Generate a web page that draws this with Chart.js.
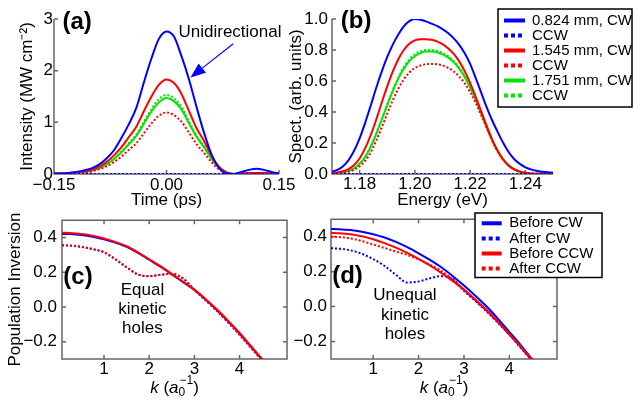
<!DOCTYPE html>
<html>
<head>
<meta charset="utf-8">
<script src="https://cdn.jsdelivr.net/npm/chart.js@4.4.1/dist/chart.umd.min.js"></script>
<style>
html, body { margin: 0; padding: 0; background: #fff; }
#wrap { position: relative; width: 633px; height: 401px; overflow: hidden; }
canvas { position: absolute; }
</style>
</head>
<body>
<div id="wrap">
  <canvas id="ca" width="300" height="212" style="left:0;top:0"></canvas>
  <canvas id="cb" width="353" height="212" style="left:280px;top:0"></canvas>
  <canvas id="cc" width="300" height="196" style="left:0;top:205px"></canvas>
  <canvas id="cd" width="353" height="196" style="left:280px;top:205px"></canvas>
</div>
<script>
// panel (a): intensity vs time
const timePs = [-0.15, -0.14, -0.13, -0.12, -0.11, -0.10, -0.09, -0.08, -0.07, -0.06, -0.05, -0.04, -0.03, -0.02, -0.01, 0.00,
  0.01, 0.02, 0.03, 0.04, 0.05, 0.06, 0.07, 0.08, 0.09, 0.10, 0.11, 0.12, 0.13, 0.14, 0.15];
const intBlueCW  = [0.01, 0.01, 0.02, 0.04, 0.07, 0.11, 0.18, 0.30, 0.46, 0.70, 0.97, 1.29, 1.78, 2.24, 2.62, 2.76,
  2.66, 2.28, 1.83, 1.30, 0.80, 0.38, 0.12, 0.01, 0.00, 0.04, 0.08, 0.10, 0.08, 0.04, 0.01];
const intBlueCCW = [0, 0, 0, 0, 0, 0, 0, 0, 0, 0, 0, 0, 0, 0, 0, 0, 0, 0, 0, 0, 0, 0, 0, 0, 0, 0, 0, 0, 0, 0, 0];
const intRedCW   = [0.01, 0.01, 0.02, 0.03, 0.05, 0.08, 0.14, 0.23, 0.36, 0.52, 0.72, 0.92, 1.22, 1.50, 1.73, 1.83,
  1.76, 1.55, 1.22, 0.89, 0.64, 0.35, 0.14, 0.03, 0.00, 0.01, 0.02, 0.02, 0.02, 0.01, 0.00];
const intRedCCW  = [0.00, 0.01, 0.01, 0.02, 0.03, 0.05, 0.09, 0.15, 0.23, 0.34, 0.47, 0.60, 0.79, 0.98, 1.13, 1.19,
  1.14, 1.01, 0.80, 0.58, 0.41, 0.23, 0.09, 0.02, 0.00, 0.00, 0.00, 0.00, 0.00, 0.00, 0.00];
const intGreenCW = [0.00, 0.01, 0.01, 0.02, 0.04, 0.06, 0.11, 0.18, 0.29, 0.42, 0.58, 0.74, 0.98, 1.21, 1.39, 1.47,
  1.41, 1.25, 0.98, 0.72, 0.52, 0.29, 0.12, 0.03, 0.00, 0.01, 0.01, 0.02, 0.01, 0.01, 0.00];
const intGreenCCW = [0.00, 0.01, 0.01, 0.02, 0.04, 0.07, 0.11, 0.19, 0.30, 0.44, 0.60, 0.77, 1.02, 1.26, 1.45, 1.53,
  1.47, 1.30, 1.02, 0.75, 0.54, 0.30, 0.12, 0.03, 0.00, 0.00, 0.01, 0.01, 0.01, 0.00, 0.00];

// panel (b): spectra vs energy
const energyEv = [1.170, 1.172, 1.174, 1.176, 1.178, 1.180, 1.182, 1.184, 1.186, 1.188, 1.190, 1.192, 1.194, 1.196, 1.198, 1.200,
  1.202, 1.204, 1.206, 1.208, 1.210, 1.212, 1.214, 1.216, 1.218, 1.220, 1.222, 1.224, 1.226, 1.228, 1.230,
  1.232, 1.234, 1.236, 1.238, 1.240, 1.242, 1.244, 1.246, 1.248, 1.250];
const spBlueCW = [0.015, 0.027, 0.05, 0.09, 0.15, 0.23, 0.33, 0.44, 0.555, 0.66, 0.755, 0.835, 0.90, 0.953, 0.986, 1.0,
  0.995, 0.985, 0.97, 0.955, 0.935, 0.91, 0.877, 0.835, 0.78, 0.71, 0.62, 0.525, 0.43, 0.345, 0.27,
  0.20, 0.14, 0.095, 0.065, 0.043, 0.03, 0.021, 0.015, 0.011, 0.008];
const spBlueCCW = [0, 0, 0, 0, 0, 0, 0, 0, 0, 0, 0, 0, 0, 0, 0, 0, 0, 0, 0, 0, 0, 0, 0, 0, 0, 0, 0, 0, 0, 0, 0,
  0, 0, 0, 0, 0, 0, 0, 0, 0, 0];
const spRedCW = [0.005, 0.01, 0.018, 0.032, 0.058, 0.10, 0.165, 0.25, 0.35, 0.46, 0.565, 0.66, 0.74, 0.80, 0.84, 0.862,
  0.87, 0.87, 0.866, 0.856, 0.838, 0.812, 0.776, 0.728, 0.665, 0.588, 0.50, 0.405, 0.31, 0.222, 0.148,
  0.092, 0.054, 0.03, 0.016, 0.008, 0.004, 0.002, 0.001, 0.0, 0.0];
const spRedCCW = [0.002, 0.004, 0.008, 0.015, 0.028, 0.05, 0.085, 0.14, 0.215, 0.30, 0.39, 0.475, 0.55, 0.61, 0.655, 0.683,
  0.70, 0.708, 0.71, 0.708, 0.70, 0.685, 0.663, 0.63, 0.587, 0.53, 0.46, 0.38, 0.296, 0.215, 0.145,
  0.09, 0.052, 0.028, 0.014, 0.007, 0.003, 0.002, 0.001, 0.0, 0.0];
const spGreenCW = [0.003, 0.006, 0.011, 0.02, 0.037, 0.066, 0.11, 0.175, 0.258, 0.35, 0.445, 0.535, 0.615, 0.68, 0.728, 0.76,
  0.78, 0.79, 0.79, 0.785, 0.772, 0.752, 0.722, 0.682, 0.628, 0.56, 0.48, 0.392, 0.302, 0.218, 0.148,
  0.094, 0.056, 0.031, 0.016, 0.008, 0.004, 0.002, 0.001, 0.0, 0.0];
const spGreenCCW = [0.003, 0.006, 0.011, 0.02, 0.037, 0.066, 0.11, 0.175, 0.258, 0.352, 0.448, 0.54, 0.622, 0.69, 0.74, 0.773,
  0.792, 0.80, 0.80, 0.795, 0.782, 0.76, 0.73, 0.688, 0.632, 0.563, 0.482, 0.393, 0.302, 0.218, 0.148,
  0.094, 0.056, 0.031, 0.016, 0.008, 0.004, 0.002, 0.001, 0.0, 0.0];

// panels (c) and (d): population inversion vs k
const kGrid = [0.07, 0.25, 0.5, 0.75, 1.0, 1.25, 1.5, 1.75, 2.0, 2.25, 2.5, 2.75, 3.0, 3.25, 3.5, 3.75, 4.0, 4.25, 4.5, 4.75];
const cBeforeCW  = [0.421, 0.420, 0.415, 0.405, 0.390, 0.371, 0.346, 0.312, 0.272, 0.232, 0.188, 0.143, 0.098, 0.043, -0.018, -0.083, -0.153, -0.228, -0.303, -0.373];
const cAfterCW   = [0.355, 0.353, 0.346, 0.333, 0.315, 0.275, 0.228, 0.187, 0.177, 0.185, 0.190, 0.164, 0.098, 0.038, -0.024, -0.090, -0.160, -0.234, -0.309, -0.382];
const cBeforeCCW = [0.428, 0.426, 0.420, 0.410, 0.395, 0.375, 0.350, 0.315, 0.275, 0.235, 0.190, 0.145, 0.100, 0.045, -0.015, -0.080, -0.150, -0.225, -0.300, -0.370];
const cAfterCCW  = [0.356, 0.354, 0.347, 0.334, 0.316, 0.276, 0.229, 0.188, 0.178, 0.186, 0.191, 0.165, 0.100, 0.040, -0.022, -0.088, -0.158, -0.232, -0.307, -0.380];
const dBeforeCW  = [0.444, 0.443, 0.438, 0.428, 0.414, 0.395, 0.370, 0.340, 0.305, 0.267, 0.225, 0.175, 0.120, 0.062, 0.000, -0.070, -0.145, -0.220, -0.300, -0.375];
const dAfterCW   = [0.334, 0.331, 0.322, 0.302, 0.272, 0.232, 0.182, 0.138, 0.143, 0.162, 0.174, 0.158, 0.090, 0.032, -0.028, -0.093, -0.162, -0.236, -0.310, -0.385];
const dBeforeCCW = [0.422, 0.420, 0.414, 0.402, 0.385, 0.363, 0.337, 0.307, 0.273, 0.235, 0.193, 0.147, 0.097, 0.040, -0.020, -0.085, -0.155, -0.228, -0.303, -0.380];
const dAfterCCW  = [0.400, 0.398, 0.390, 0.375, 0.355, 0.335, 0.315, 0.295, 0.270, 0.240, 0.205, 0.155, 0.097, 0.037, -0.024, -0.090, -0.160, -0.233, -0.308, -0.383];

// tick labels
const timeTicks = [-0.15, 0, 0.15];
const intTicks = [0, 1, 2, 3];
const energyTicks = [1.18, 1.20, 1.22, 1.24];
const spTicks = [0, 0.2, 0.4, 0.6, 0.8, 1.0];
const kTicks = [1, 2, 3, 4];
const invTicks = [-0.2, 0, 0.2, 0.4];

const FAM = '"Liberation Sans", Arial, sans-serif';
const BLUE = '#0000ff', RED = '#ff0000', GREEN = '#00e600';
const AXIS = '#666';

function pts(xs, ys) { return xs.map((x, i) => ({x: x, y: ys[i]})); }

function fmt(v, d) {
  const s = Math.abs(v).toFixed(d);
  return (v < -1e-9 ? '\u2212' : '') + s;
}

function line(label, xs, ys, color, dotted, order) {
  return {
    label: label, data: pts(xs, ys), borderColor: color, backgroundColor: color,
    borderWidth: 2, borderDash: dotted ? [2, 2] : [], pointRadius: 0,
    cubicInterpolationMode: 'monotone',
    fill: false, dotted: dotted, order: order || 0
  };
}

function axis(min, max, ticks, dec, size, pad, title) {
  return {
    type: 'linear', min: min, max: max,
    grid: {display: false, drawTicks: false},
    border: {display: false},
    afterBuildTicks: s => { s.ticks = ticks.map(v => ({value: v})); },
    afterFit: s => { if (s.isHorizontal()) s.height = size; else s.width = size; },
    ticks: {padding: pad, color: '#000', font: {family: FAM, size: 17}, autoSkip: false, maxRotation: 0,
      callback: v => fmt(v, dec)},
    title: title ? Object.assign({display: true, color: '#000', font: {family: FAM, size: 17}}, title) : {display: false}
  };
}

// frame, inward ticks, annotations and legends
const decor = {
  id: 'decor',
  beforeDatasetsDraw(chart, args, o) {
    const ctx = chart.ctx, a = chart.chartArea, sx = chart.scales.x, sy = chart.scales.y;
    ctx.save();
    ctx.strokeStyle = AXIS;
    ctx.lineWidth = 1.5;
    ctx.beginPath();
    if (o.full) {
      ctx.rect(a.left, a.top, a.right - a.left, a.bottom - a.top);
    } else {
      ctx.moveTo(a.left, a.top); ctx.lineTo(a.left, a.bottom); ctx.lineTo(a.right, a.bottom);
    }
    sx.ticks.forEach(t => {
      const p = sx.getPixelForValue(t.value);
      ctx.moveTo(p, a.bottom); ctx.lineTo(p, a.bottom - 4);
      if (o.full) { ctx.moveTo(p, a.top); ctx.lineTo(p, a.top + 4); }
    });
    sy.ticks.forEach(t => {
      const p = sy.getPixelForValue(t.value);
      ctx.moveTo(a.left, p); ctx.lineTo(a.left + 4, p);
      if (o.full) { ctx.moveTo(a.right, p); ctx.lineTo(a.right - 4, p); }
    });
    ctx.stroke();
    ctx.restore();
  },
  afterDatasetsDraw(chart, args, o) {
    const ctx = chart.ctx, sx = chart.scales.x, sy = chart.scales.y;
    ctx.save();
    ctx.fillStyle = '#000';
    (o.texts || []).forEach(t => {
      ctx.font = t.font;
      ctx.textAlign = t.align || 'left';
      ctx.textBaseline = 'middle';
      ctx.fillText(t.text, sx.getPixelForValue(t.x), sy.getPixelForValue(t.y));
    });
    if (o.arrow) {
      const x0 = sx.getPixelForValue(o.arrow.from[0]), y0 = sy.getPixelForValue(o.arrow.from[1]);
      const x1 = sx.getPixelForValue(o.arrow.to[0]), y1 = sy.getPixelForValue(o.arrow.to[1]);
      const ang = Math.atan2(y1 - y0, x1 - x0), L = 15, W = 6;
      const bx = x1 - L * Math.cos(ang), by = y1 - L * Math.sin(ang);
      ctx.strokeStyle = BLUE; ctx.fillStyle = BLUE; ctx.lineWidth = 1.2;
      ctx.beginPath(); ctx.moveTo(x0, y0); ctx.lineTo(bx, by); ctx.stroke();
      ctx.beginPath();
      ctx.moveTo(x1, y1);
      ctx.lineTo(bx + W * Math.sin(ang), by - W * Math.cos(ang));
      ctx.lineTo(bx - W * Math.sin(ang), by + W * Math.cos(ang));
      ctx.closePath(); ctx.fill();
    }
    if (o.legend) {
      const g = o.legend, b = g.box;
      ctx.fillStyle = '#fff';
      ctx.fillRect(b[0], b[1], b[2] - b[0], b[3] - b[1]);
      ctx.strokeStyle = '#000'; ctx.lineWidth = 1.5;
      ctx.strokeRect(b[0], b[1], b[2] - b[0], b[3] - b[1]);
      chart.data.datasets.forEach((ds, i) => {
        const y = g.y0 + i * g.dy;
        ctx.strokeStyle = ds.borderColor; ctx.lineWidth = 4;
        ctx.setLineDash(ds.dotted ? [4, 3] : []);
        ctx.beginPath(); ctx.moveTo(g.lx[0], y); ctx.lineTo(g.lx[1], y); ctx.stroke();
        ctx.setLineDash([]);
        ctx.fillStyle = '#000'; ctx.font = '15px ' + FAM;
        ctx.textAlign = 'left'; ctx.textBaseline = 'middle';
        ctx.fillText(ds.label, g.tx, y);
      });
    }
    if (o.kTitle) {
      const a = chart.chartArea;
      const big = '17px ' + FAM, bigI = 'italic 17px ' + FAM, small = '12px ' + FAM;
      ctx.font = bigI; const wk = ctx.measureText('k').width, wa = ctx.measureText('a').width;
      ctx.font = big; const wp = ctx.measureText(' (').width, wc = ctx.measureText(')').width;
      ctx.font = small; const ws = Math.max(ctx.measureText('0').width, ctx.measureText('\u22121').width) + 1;
      let x = (a.left + a.right) / 2 - (wk + wp + wa + ws + wc) / 2;
      const yb = o.kTitle;
      ctx.textAlign = 'left'; ctx.textBaseline = 'alphabetic'; ctx.fillStyle = '#000';
      ctx.font = bigI; ctx.fillText('k', x, yb); x += wk;
      ctx.font = big; ctx.fillText(' (', x, yb); x += wp;
      ctx.font = bigI; ctx.fillText('a', x, yb); x += wa;
      ctx.font = small; ctx.fillText('0', x, yb + 3); ctx.fillText('\u22121', x + 1, yb - 9); x += ws;
      ctx.font = big; ctx.fillText(')', x, yb);
    }
    ctx.restore();
  }
};

function makeChart(id, datasets, scales, padding, decorOpts) {
  return new Chart(document.getElementById(id), {
    type: 'line',
    data: {datasets: datasets},
    options: {
      responsive: false, animation: false,
      layout: {padding: padding, autoPadding: false},
      plugins: {legend: {display: false}, tooltip: {enabled: false}, decor: decorOpts},
      scales: scales
    },
    plugins: [decor]
  });
}

// (a)
makeChart('ca', [
  line('0.824 mm, CW', timePs, intBlueCW, BLUE, false),
  line('CCW', timePs, intBlueCCW, BLUE, true),
  line('1.545 mm, CW', timePs, intRedCW, RED, false),
  line('CCW', timePs, intRedCCW, RED, true),
  line('1.751 mm, CW', timePs, intGreenCW, GREEN, false),
  line('CCW', timePs, intGreenCCW, GREEN, true)
], {
  x: axis(-0.15, 0.15, timeTicks, 2, 38, 1, {text: 'Time (ps)', padding: {top: 0, bottom: 1}}),
  y: axis(0, 3, intTicks, 0, 54, 1, {text: 'Intensity (MW cm\u207B\u00B2)', padding: {top: 17, bottom: 0}})
}, {left: 0, top: 19, right: 21, bottom: 0}, {
  full: false,
  texts: [
    {text: '(a)', x: -0.1387, y: 2.93, font: 'bold 24px ' + FAM},
    {text: 'Unidirectional', x: 0.016, y: 2.74, font: '17px ' + FAM}
  ],
  arrow: {from: [0.089, 2.52], to: [0.032, 1.87]}
});

// (b)
makeChart('cb', [
  line('0.824 mm, CW', energyEv, spBlueCW, BLUE, false),
  line('CCW', energyEv, spBlueCCW, BLUE, true),
  line('1.545 mm, CW', energyEv, spRedCW, RED, false),
  line('CCW', energyEv, spRedCCW, RED, true),
  line('1.751 mm, CW', energyEv, spGreenCW, GREEN, false),
  line('CCW', energyEv, spGreenCCW, GREEN, true)
], {
  x: axis(1.17, 1.25, energyTicks, 2, 38, 0, {text: 'Energy (eV)', padding: {top: 0, bottom: 1}}),
  y: axis(0, 1.0, spTicks, 1, 52, 4, {text: 'Spect. (arb. units)', padding: {top: 6.5, bottom: 0}})
}, {left: 0, top: 19, right: 80, bottom: 0}, {
  full: false,
  texts: [{text: '(b)', x: 1.1732, y: 0.982, font: 'bold 24px ' + FAM}],
  legend: {box: [218, 9, 352, 107], y0: 20.5, dy: 15, lx: [224, 245], tx: 252}
});

// (c)
makeChart('cc', [
  line('Before CW', kGrid, cBeforeCW, BLUE, false, 1),
  line('After CW', kGrid, cAfterCW, BLUE, true, 1),
  line('Before CCW', kGrid, cBeforeCCW, RED, false, 0),
  line('After CCW', kGrid, cAfterCCW, RED, true, 0)
], {
  x: axis(0.07, 5.05, kTicks, 0, 42, 0),
  y: axis(-0.3, 0.5, invTicks, 1, 62, 5, {text: 'Population Inversion', padding: {top: 5, bottom: 0}})
}, {left: 0, top: 8, right: 13, bottom: 0}, {
  full: true,
  texts: [
    {text: '(c)', x: 0.10, y: 0.17, font: 'bold 24px ' + FAM},
    {text: 'Equal', x: 1.85, y: 0.096, font: '17px ' + FAM, align: 'center'},
    {text: 'kinetic', x: 1.85, y: -0.016, font: '17px ' + FAM, align: 'center'},
    {text: 'holes', x: 1.85, y: -0.126, font: '17px ' + FAM, align: 'center'}
  ],
  kTitle: 188
});

// (d)
makeChart('cd', [
  line('Before CW', kGrid, dBeforeCW, BLUE, false, 1),
  line('After CW', kGrid, dAfterCW, BLUE, true, 1),
  line('Before CCW', kGrid, dBeforeCCW, RED, false, 0),
  line('After CCW', kGrid, dAfterCCW, RED, true, 0)
], {
  x: axis(0.07, 5.05, kTicks, 0, 42, 0),
  y: axis(-0.3, 0.5, invTicks, 1, 51, 4)
}, {left: 0, top: 8, right: 76, bottom: 0}, {
  full: true,
  texts: [
    {text: '(d)', x: 0.095, y: 0.17, font: 'bold 24px ' + FAM},
    {text: 'Unequal', x: 1.70, y: 0.066, font: '17px ' + FAM, align: 'center'},
    {text: 'kinetic', x: 1.70, y: -0.049, font: '17px ' + FAM, align: 'center'},
    {text: 'holes', x: 1.70, y: -0.159, font: '17px ' + FAM, align: 'center'}
  ],
  legend: {box: [195, 8, 322, 72.5], y0: 18.3, dy: 15.1, lx: [201.7, 221.7], tx: 229.3},
  kTitle: 188
});
</script>
</body>
</html>
